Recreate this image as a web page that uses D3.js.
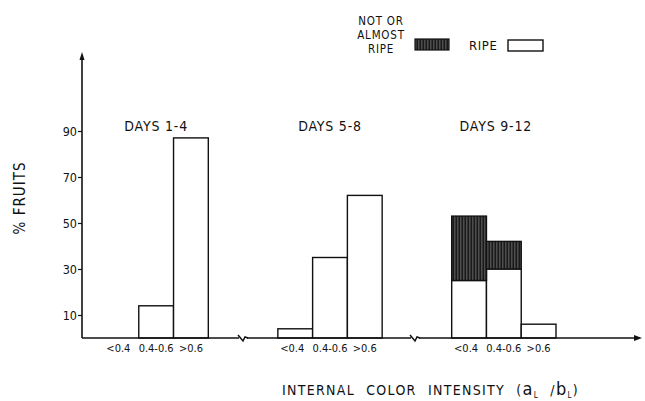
<!DOCTYPE html>
<html>
<head>
<meta charset="utf-8">
<script src="https://cdn.jsdelivr.net/npm/d3@7"></script>
<style>
  body { margin: 0; background: #fff; }
  svg { display: block; font-family: "DejaVu Sans Condensed", "DejaVu Sans", sans-serif; }
  text { fill: #111; }
</style>
</head>
<body>
<svg id="chart" width="645" height="401"></svg>
<script>
// data
const groups = ["DAYS 1-4", "DAYS 5-8", "DAYS 9-12"];
const classes = ["<0.4", "0.4-0.6", ">0.6"];
const ripe = [
  [0, 14, 87],
  [4, 35, 62],
  [25, 30, 6]
];
const notRipe = [
  [0, 0, 0],
  [0, 0, 0],
  [28, 12, 0]
];
const yTicks = [10, 30, 50, 70, 90];

const svg = d3.select("#chart");

const x0 = d3.scaleBand()
  .domain(groups)
  .range([104, 556])
  .paddingInner(0.4);

const x1 = d3.scaleBand()
  .domain(classes)
  .range([0, x0.bandwidth()]);

const y = d3.scaleLinear()
  .domain([0, 90])
  .range([338, 131]);

// hatch for the "not or almost ripe" part
let defs = svg.append("defs");
let pat = defs.append("pattern")
  .attr("id", "hatch")
  .attr("patternUnits", "userSpaceOnUse")
  .attr("width", 3)
  .attr("height", 40);
pat.append("rect").attr("width", 3).attr("height", 40).attr("fill", "#1a1a1a");
pat.append("rect").attr("x", 1.6).attr("width", 0.6).attr("height", 40).attr("fill", "#9a9a9a");

// flatten to one row per bar
let rows = [];
groups.forEach((g, i) => {
  classes.forEach((c, j) => {
    rows.push({group: g, cls: c, ripe: ripe[i][j], not: notRipe[i][j]});
  });
});

let bars = svg.append("g").attr("class", "bars");

bars.selectAll(".ripe")
  .data(rows.filter(d => d.ripe > 0))
  .enter().append("rect")
  .attr("class", "ripe")
  .attr("x", d => x0(d.group) + x1(d.cls))
  .attr("y", d => y(d.ripe))
  .attr("width", x1.bandwidth())
  .attr("height", d => y(0) - y(d.ripe))
  .style("fill", "#fff")
  .style("stroke", "#111")
  .style("stroke-width", 1.4);

bars.selectAll(".notripe")
  .data(rows.filter(d => d.not > 0))
  .enter().append("rect")
  .attr("class", "notripe")
  .attr("x", d => x0(d.group) + x1(d.cls))
  .attr("y", d => y(d.ripe + d.not))
  .attr("width", x1.bandwidth())
  .attr("height", d => y(d.ripe) - y(d.ripe + d.not))
  .style("fill", "url(#hatch)")
  .style("stroke", "#111")
  .style("stroke-width", 1.4);

// y axis
let yAxis = svg.append("g")
  .attr("transform", "translate(82,0)")
  .call(d3.axisLeft(y).tickValues(yTicks).tickSize(4).tickPadding(1));
yAxis.select(".domain").remove();
yAxis.selectAll("line").style("stroke", "#111").style("stroke-width", 1.2);
yAxis.selectAll("text")
  .style("font-size", "12.5px")
  .style("font-family", "'DejaVu Sans Condensed', sans-serif")
  .style("fill", "#111");

svg.append("line")
  .attr("x1", 82).attr("x2", 82)
  .attr("y1", y(0)).attr("y2", 57)
  .style("stroke", "#111").style("stroke-width", 1.6);
svg.append("path")
  .attr("d", "M82,52 L79.5,60 L84.5,60 Z")
  .style("fill", "#111");

// x axis with two breaks between groups
let breaks = [243, 415];
let segs = [[82, breaks[0] - 4], [breaks[0] + 4, breaks[1] - 4], [breaks[1] + 4, 636]];
segs.forEach(s => {
  svg.append("line")
    .attr("x1", s[0]).attr("x2", s[1])
    .attr("y1", y(0)).attr("y2", y(0))
    .style("stroke", "#111").style("stroke-width", 1.6);
});
breaks.forEach(b => {
  svg.append("path")
    .attr("d", `M${b - 5},${y(0) - 3} L${b},${y(0) + 3} L${b + 2},${y(0) - 1} L${b + 5},${y(0)}`)
    .style("fill", "none").style("stroke", "#111").style("stroke-width", 1.5);
});
svg.append("path")
  .attr("d", `M642,${y(0)} L634,${y(0) - 3} L634,${y(0) + 3} Z`)
  .style("fill", "#111");

// class labels under each group
groups.forEach(g => {
  svg.append("g")
    .selectAll("text")
    .data(classes)
    .enter().append("text")
    .attr("x", c => x0(g) + x1(c) + x1.bandwidth() / 2 - (c === "<0.4" ? 3 : 0))
    .attr("y", 352)
    .attr("text-anchor", "middle")
    .style("font-size", "11px")
    .text(c => c);
});

// group titles
svg.append("g")
  .selectAll("text")
  .data(groups)
  .enter().append("text")
  .attr("x", g => x0(g) + x0.bandwidth() / 2 - (g === "DAYS 9-12" ? 8 : 0))
  .attr("y", 131)
  .attr("text-anchor", "middle")
  .style("font-size", "14px")
  .style("letter-spacing", "0.8px")
  .text(g => g);

// axis titles
svg.append("text")
  .attr("transform", "translate(25,198) rotate(-90)")
  .attr("text-anchor", "middle")
  .style("font-size", "15px")
  .style("letter-spacing", "1px")
  .text("% FRUITS");

let xt = svg.append("text")
  .attr("x", 282)
  .attr("y", 395)
  .style("font-size", "14px")
  .style("letter-spacing", "1.3px")
  .style("word-spacing", "6px");
xt.append("tspan").text("INTERNAL COLOR INTENSITY (");
xt.append("tspan").style("font-size", "18px").text("a");
xt.append("tspan").attr("dy", 3).style("font-size", "8px").text("L");
xt.append("tspan").attr("dy", -3).text(" /");
xt.append("tspan").style("font-size", "18px").text("b");
xt.append("tspan").attr("dy", 3).style("font-size", "8px").text("L");
xt.append("tspan").attr("dy", -3).text(")");

// legend
let legend = svg.append("g").attr("class", "legend");
legend.selectAll("text.lab")
  .data(["NOT OR", "ALMOST", "RIPE"])
  .enter().append("text")
  .attr("class", "lab")
  .attr("x", 381)
  .attr("y", (d, i) => 25 + i * 14)
  .attr("text-anchor", "middle")
  .style("font-size", "11.5px")
  .style("letter-spacing", "0.8px")
  .text(d => d);
legend.append("rect")
  .attr("x", 415).attr("y", 39).attr("width", 34).attr("height", 11)
  .style("fill", "url(#hatch)").style("stroke", "#111").style("stroke-width", 1.2);
legend.append("text")
  .attr("x", 469).attr("y", 50)
  .style("font-size", "13px")
  .style("letter-spacing", "0.6px")
  .text("RIPE");
legend.append("rect")
  .attr("x", 508).attr("y", 40).attr("width", 35).attr("height", 11)
  .style("fill", "#fff").style("stroke", "#111").style("stroke-width", 1.4);
</script>
</body>
</html>
